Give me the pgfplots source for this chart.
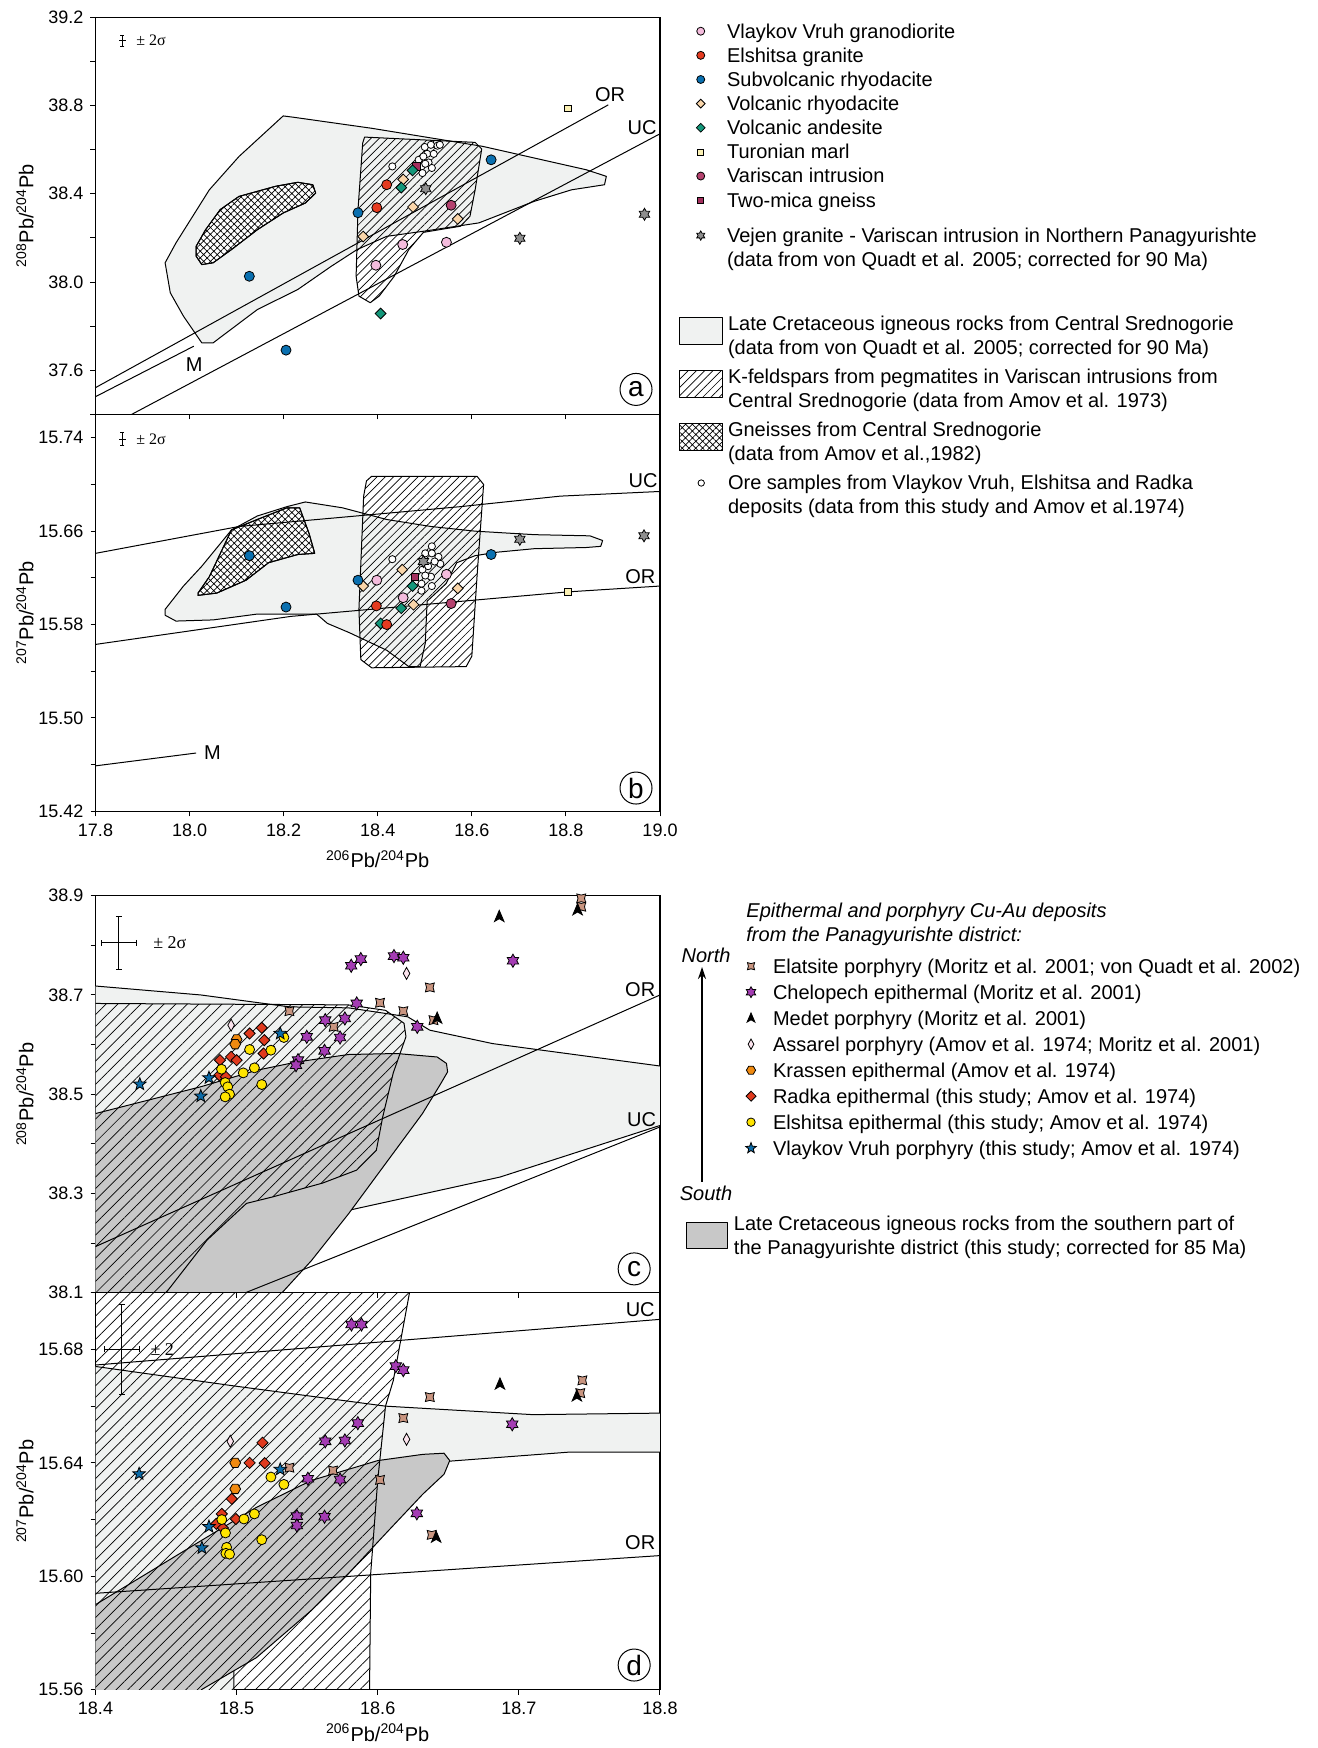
\documentclass[border=0pt]{standalone}
\usepackage{fontspec}
\setmainfont{Liberation Sans}
\newfontfamily\serifont{Liberation Serif}
\usepackage{pgfplots}
\pgfplotsset{compat=1.18}
\usetikzlibrary{patterns.meta,arrows.meta}

\definecolor{cpink}{HTML}{F4BCDD}
\definecolor{cred}{HTML}{E53B20}
\definecolor{cblue}{HTML}{0A70B0}
\definecolor{cpeach}{HTML}{FAD6AA}
\definecolor{cteal}{HTML}{13977A}
\definecolor{cturon}{HTML}{FAF0B4}
\definecolor{cvaris}{HTML}{B5426F}
\definecolor{cmica}{HTML}{A3305E}
\definecolor{cvejen}{HTML}{8E8E8E}
\definecolor{lcgray}{HTML}{F0F2F1}
\definecolor{dgray}{HTML}{C8C8C8}
\definecolor{celat}{HTML}{C99580}
\definecolor{cchel}{HTML}{A43CB3}
\definecolor{cassa}{HTML}{FCE4EE}
\definecolor{ckras}{HTML}{F08A10}
\definecolor{crad}{HTML}{E03A1E}
\definecolor{celsh}{HTML}{FFE400}
\definecolor{cvvp}{HTML}{0C6BA8}

\pgfdeclareplotmark{hexstar}{%
  \pgfmathsetmacro\mrA{\pgfplotmarksize}\pgfmathsetmacro\mrB{0.58*\pgfplotmarksize}%
  \pgfpathmoveto{\pgfqpointpolar{90}{\mrA pt}}%
  \pgfpathlineto{\pgfqpointpolar{120}{\mrB pt}}%
  \pgfpathlineto{\pgfqpointpolar{150}{\mrA pt}}%
  \pgfpathlineto{\pgfqpointpolar{180}{\mrB pt}}%
  \pgfpathlineto{\pgfqpointpolar{210}{\mrA pt}}%
  \pgfpathlineto{\pgfqpointpolar{240}{\mrB pt}}%
  \pgfpathlineto{\pgfqpointpolar{270}{\mrA pt}}%
  \pgfpathlineto{\pgfqpointpolar{300}{\mrB pt}}%
  \pgfpathlineto{\pgfqpointpolar{330}{\mrA pt}}%
  \pgfpathlineto{\pgfqpointpolar{0}{\mrB pt}}%
  \pgfpathlineto{\pgfqpointpolar{30}{\mrA pt}}%
  \pgfpathlineto{\pgfqpointpolar{60}{\mrB pt}}%
  \pgfpathclose\pgfusepathqfillstroke}
\pgfdeclareplotmark{fivestar}{%
  \pgfmathsetmacro\mrA{\pgfplotmarksize}\pgfmathsetmacro\mrB{0.42*\pgfplotmarksize}%
  \pgfpathmoveto{\pgfqpointpolar{90}{\mrA pt}}%
  \pgfpathlineto{\pgfqpointpolar{126}{\mrB pt}}%
  \pgfpathlineto{\pgfqpointpolar{162}{\mrA pt}}%
  \pgfpathlineto{\pgfqpointpolar{198}{\mrB pt}}%
  \pgfpathlineto{\pgfqpointpolar{234}{\mrA pt}}%
  \pgfpathlineto{\pgfqpointpolar{270}{\mrB pt}}%
  \pgfpathlineto{\pgfqpointpolar{306}{\mrA pt}}%
  \pgfpathlineto{\pgfqpointpolar{342}{\mrB pt}}%
  \pgfpathlineto{\pgfqpointpolar{18}{\mrA pt}}%
  \pgfpathlineto{\pgfqpointpolar{54}{\mrB pt}}%
  \pgfpathclose\pgfusepathqfillstroke}
\pgfdeclareplotmark{concsq}{%
  \pgfmathsetmacro\mrA{1.05*\pgfplotmarksize}\pgfmathsetmacro\mrB{0.55*\pgfplotmarksize}%
  \pgfpathmoveto{\pgfqpointpolar{45}{\mrA pt}}%
  \pgfpathlineto{\pgfqpointpolar{90}{\mrB pt}}%
  \pgfpathlineto{\pgfqpointpolar{135}{\mrA pt}}%
  \pgfpathlineto{\pgfqpointpolar{180}{\mrB pt}}%
  \pgfpathlineto{\pgfqpointpolar{225}{\mrA pt}}%
  \pgfpathlineto{\pgfqpointpolar{270}{\mrB pt}}%
  \pgfpathlineto{\pgfqpointpolar{315}{\mrA pt}}%
  \pgfpathlineto{\pgfqpointpolar{0}{\mrB pt}}%
  \pgfpathclose\pgfusepathqfillstroke}
\pgfdeclareplotmark{arrowhd}{%
  \pgfmathsetmacro\mrA{1.15*\pgfplotmarksize}\pgfmathsetmacro\mrB{0.85*\pgfplotmarksize}\pgfmathsetmacro\mrC{0.35*\pgfplotmarksize}%
  \pgfpathmoveto{\pgfqpoint{0pt}{\mrA pt}}%
  \pgfpathlineto{\pgfqpoint{\mrB pt}{-\mrB pt}}%
  \pgfpathlineto{\pgfqpoint{0pt}{-\mrC pt}}%
  \pgfpathlineto{\pgfqpoint{-\mrB pt}{-\mrB pt}}%
  \pgfpathclose\pgfusepathqfillstroke}
\pgfdeclareplotmark{hexa}{%
  \pgfmathsetmacro\mrA{\pgfplotmarksize}%
  \pgfpathmoveto{\pgfqpointpolar{0}{\mrA pt}}%
  \pgfpathlineto{\pgfqpointpolar{60}{\mrA pt}}%
  \pgfpathlineto{\pgfqpointpolar{120}{\mrA pt}}%
  \pgfpathlineto{\pgfqpointpolar{180}{\mrA pt}}%
  \pgfpathlineto{\pgfqpointpolar{240}{\mrA pt}}%
  \pgfpathlineto{\pgfqpointpolar{300}{\mrA pt}}%
  \pgfpathclose\pgfusepathqfillstroke}
\pgfdeclareplotmark{rdiam}{%
  \pgfmathsetmacro\mrA{\pgfplotmarksize}%
  \pgfpathmoveto{\pgfqpoint{0pt}{\mrA pt}}%
  \pgfpathlineto{\pgfqpoint{\mrA pt}{0pt}}%
  \pgfpathlineto{\pgfqpoint{0pt}{-\mrA pt}}%
  \pgfpathlineto{\pgfqpoint{-\mrA pt}{0pt}}%
  \pgfpathclose\pgfusepathqfillstroke}
\pgfdeclareplotmark{tdiam}{%
  \pgfmathsetmacro\mrA{\pgfplotmarksize}\pgfmathsetmacro\mrB{0.55*\pgfplotmarksize}%
  \pgfpathmoveto{\pgfqpoint{0pt}{\mrA pt}}%
  \pgfpathlineto{\pgfqpoint{\mrB pt}{0pt}}%
  \pgfpathlineto{\pgfqpoint{0pt}{-\mrA pt}}%
  \pgfpathlineto{\pgfqpoint{-\mrB pt}{0pt}}%
  \pgfpathclose\pgfusepathqfillstroke}

\pgfplotsset{
  panel/.style={scale only axis, width=282.25pt, height=198.5pt,
    tick align=outside, tick pos=left,
    major tick length=2.5pt, minor tick length=2.5pt,
    every tick/.style={black, line width=0.5pt},
    axis line style={line width=0.7pt},
    tick label style={font=\fontsize{9}{11}\selectfont},
    label style={font=\fontsize{11}{13}\selectfont},
    every axis y label/.style={at={(axis description cs:-0.125,0.5)}, rotate=90, anchor=center},
    every axis x label/.style={at={(axis description cs:0.5,0)}, anchor=center, yshift=-24pt},
    /pgf/number format/assume math mode=true,
    legend style={draw=none, fill=none, inner sep=0pt, outer sep=0pt, anchor=north west,
      font=\fontsize{10}{12}\selectfont, cells={anchor=west, align=left},
      nodes={inner sep=0pt, outer sep=0pt}},
  },
  legA/.style={legend image code/.code={\path[draw=none,fill=none] (-10.85pt,-1pt) rectangle (10.65pt,1pt);\draw[##1] plot coordinates {(0pt,#1)};}},
  legBox/.style={legend image code/.code={\draw[##1] (-10.85pt,-4.15pt) rectangle (10.65pt,9.15pt);}},
  legC/.style={legend image code/.code={\path[draw=none,fill=none] (-3pt,-1pt) rectangle (8.5pt,1pt);\draw[##1] plot coordinates {(0pt,0pt)};}},
  legD/.style={legend image code/.code={\draw[##1] (0pt,-6.5pt) rectangle (20.5pt,6.5pt);}},
  outl/.style={draw=black, line width=0.5pt, line join=round},
  mk/.style={only marks, forget plot, mark options={draw=black, line width=0.4pt, fill=#1}},
}

\begin{document}
\begin{tikzpicture}
\useasboundingbox (0pt,0pt) rectangle (658.5pt,-874pt);

% ================= panel a =================
\begin{axis}[panel, at={(47.75pt,-8.67pt)}, anchor=north west,
  xmin=17.8, xmax=19.0, ymin=37.4, ymax=39.2,
  xtick={17.8,18.0,18.2,18.4,18.6,18.8,19.0}, xticklabels={},
  ytick={37.6,38.0,38.4,38.8,39.2}, yticklabels={37.6,38.0,38.4,38.8,39.2},
  minor ytick={37.4,37.8,38.2,38.6,39.0},
  ylabel={\textsuperscript{208}Pb/\textsuperscript{204}Pb},
  legend style={at={(1.0337,0.990)}, row sep=2.17pt, column sep=2.5pt},
]
\addlegendimage{only marks, mark=*, mark size=2pt, mark options={fill=cpink, draw=black, line width=0.4pt}, legA=0pt}
\addlegendentry{\strut Vlaykov Vruh granodiorite}
\addlegendimage{only marks, mark=*, mark size=2pt, mark options={fill=cred, draw=black, line width=0.4pt}, legA=0pt}
\addlegendentry{\strut Elshitsa granite}
\addlegendimage{only marks, mark=*, mark size=2pt, mark options={fill=cblue, draw=black, line width=0.4pt}, legA=0pt}
\addlegendentry{\strut Subvolcanic rhyodacite}
\addlegendimage{only marks, mark=rdiam, mark size=2.2pt, mark options={fill=cpeach, draw=black, line width=0.4pt}, legA=0pt}
\addlegendentry{\strut Volcanic rhyodacite}
\addlegendimage{only marks, mark=rdiam, mark size=2.2pt, mark options={fill=cteal, draw=black, line width=0.4pt}, legA=0pt}
\addlegendentry{\strut Volcanic andesite}
\addlegendimage{only marks, mark=square*, mark size=1.5pt, mark options={fill=cturon, draw=black, line width=0.4pt}, legA=0pt}
\addlegendentry{\strut Turonian marl}
\addlegendimage{only marks, mark=*, mark size=2pt, mark options={fill=cvaris, draw=black, line width=0.4pt}, legA=0pt}
\addlegendentry{\strut Variscan intrusion}
\addlegendimage{only marks, mark=square*, mark size=1.5pt, mark options={fill=cmica, draw=black, line width=0.4pt}, legA=0pt}
\addlegendentry{\strut Two-mica gneiss}
\addlegendimage{empty legend}
\addlegendentry{\rule{0pt}{1.95pt}}
\addlegendimage{only marks, mark=hexstar, mark size=2.3pt, mark options={fill=cvejen, draw=black, line width=0.4pt}, legA=6pt}
\addlegendentry{\strut Vejen granite - Variscan intrusion in Northern Panagyurishte\\(data from von Quadt et al. 2005; corrected for 90 Ma)\strut}

\addplot[outl, fill=lcgray, forget plot] coordinates {
(18.199,38.753) (18.221,38.747) (18.387,38.697) (18.623,38.615) (18.843,38.509) (18.886,38.479)
(18.882,38.441) (18.812,38.418) (18.733,38.366) (18.615,38.268) (18.497,38.230) (18.419,38.207)
(18.356,38.147) (18.301,38.071) (18.230,37.966) (18.144,37.875) (18.050,37.724) (18.026,37.724)
(17.987,37.845) (17.959,37.951) (17.948,38.087) (17.971,38.177) (18.042,38.418) (18.105,38.569)} --cycle;
\addplot[outl, fill=white, postaction={pattern={Hatch[angle=45,distance=2.4pt,line width=0.35pt]}}, forget plot] coordinates {
(18.014,38.117) (18.026,38.079) (18.050,38.087) (18.089,38.147) (18.144,38.237) (18.199,38.313)
(18.246,38.358) (18.268,38.403) (18.262,38.441) (18.230,38.452) (18.183,38.434) (18.105,38.388)
(18.065,38.328) (18.034,38.237) (18.014,38.162)} --cycle;
\addplot[outl, pattern={Lines[angle=45,distance=2.9pt,line width=0.35pt]}, forget plot] coordinates {
(18.372,38.657) (18.607,38.633) (18.621,38.603) (18.607,38.418) (18.596,38.298) (18.576,38.253)
(18.497,38.225) (18.466,38.147) (18.435,38.026) (18.403,37.936) (18.384,37.906) (18.360,37.936)
(18.354,38.026) (18.358,38.328) (18.368,38.630)} --cycle;
\addplot[outl, forget plot] coordinates {(17.8,37.521) (18.890,38.803)};
\addplot[outl, forget plot] coordinates {(17.8,37.480) (18.009,37.709)};
\addplot[outl, forget plot] coordinates {(17.75,37.256) (19.0,38.672)};
\addplot[mk=white, mark=*, mark size=1.8pt] coordinates {
(18.431,38.524) (18.487,38.554) (18.500,38.612) (18.513,38.622) (18.527,38.618) (18.532,38.622)
(18.505,38.581) (18.519,38.581) (18.497,38.569) (18.508,38.542) (18.493,38.524) (18.515,38.517)
(18.495,38.494) (18.501,38.536)};
\addplot[mk=cblue, mark=*, mark size=2.5pt] coordinates {(18.127,38.026) (18.205,37.691) (18.358,38.314) (18.641,38.554)};
\addplot[mk=cpink, mark=*, mark size=2.5pt] coordinates {(18.396,38.076) (18.453,38.170) (18.546,38.180)};
\addplot[mk=cred, mark=*, mark size=2.5pt] coordinates {(18.419,38.441) (18.398,38.337)};
\addplot[mk=cmica, mark=square*, mark size=1.8pt] coordinates {(18.482,38.524)};
\addplot[mk=cpeach, mark=rdiam, mark size=2.7pt] coordinates {(18.454,38.465) (18.475,38.340) (18.369,38.206) (18.570,38.286)};
\addplot[mk=cteal, mark=rdiam, mark size=2.7pt] coordinates {(18.474,38.506) (18.450,38.428) (18.406,37.857)};
\addplot[mk=cturon, mark=square*, mark size=1.7pt] coordinates {(18.804,38.787)};
\addplot[mk=cvaris, mark=*, mark size=2.5pt] coordinates {(18.556,38.348)};
\addplot[mk=cvejen, mark=hexstar, mark size=3pt] coordinates {(18.502,38.423) (18.702,38.198) (18.967,38.307)};
\node[font=\fontsize{10}{10}\selectfont] at (axis cs:18.894,38.848) {OR};
\node[font=\fontsize{10}{10}\selectfont] at (axis cs:18.962,38.702) {UC};
\node[font=\fontsize{10}{10}\selectfont] at (axis cs:18.010,37.626) {M};
\node[draw, circle, minimum size=16pt, inner sep=0pt, line width=0.5pt, font=\fontsize{14}{14}\selectfont] at (axis cs:18.949,37.513) {a};
\draw[line width=0.4pt, {Bar[width=2pt]}-{Bar[width=2pt]}] (axis cs:17.857,39.068) -- (axis cs:17.857,39.120);
\draw[line width=0.4pt] (axis cs:17.850,39.094) -- (axis cs:17.864,39.094);
\node[anchor=west, font=\serifont\fontsize{8}{8}\selectfont] at (axis cs:17.872,39.094) {± 2σ};
\end{axis}

% ================= panel b =================
\begin{axis}[panel, at={(47.75pt,-207.2pt)}, anchor=north west,
  xmin=17.8, xmax=19.0, ymin=15.42, ymax=15.76,
  xtick={17.8,18.0,18.2,18.4,18.6,18.8,19.0}, xticklabels={17.8,18.0,18.2,18.4,18.6,18.8,19.0},
  ytick={15.42,15.50,15.58,15.66,15.74}, yticklabels={15.42,15.50,15.58,15.66,15.74},
  minor ytick={15.46,15.54,15.62,15.70},
  ylabel={\textsuperscript{207}Pb/\textsuperscript{204}Pb},
  xlabel={\textsuperscript{206}Pb/\textsuperscript{204}Pb},
  legend style={at={(1.0337,1.2526)}, row sep=4.6pt, column sep=2.5pt},
]
\addlegendimage{outl, fill=lcgray, legBox}
\addlegendentry{\strut Late Cretaceous igneous rocks from Central Srednogorie\\(data from von Quadt et al. 2005; corrected for 90 Ma)\strut}
\addlegendimage{outl, pattern={Lines[angle=45,distance=2.9pt,line width=0.35pt]}, legBox}
\addlegendentry{\strut K-feldspars from pegmatites in Variscan intrusions from\\Central Srednogorie (data from Amov et al. 1973)\strut}
\addlegendimage{outl, fill=white, postaction={pattern={Hatch[angle=45,distance=2.4pt,line width=0.35pt]}}, legBox}
\addlegendentry{\strut Gneisses from Central Srednogorie\\(data from Amov et al.,1982)\strut}
\addlegendimage{only marks, mark=*, mark size=1.6pt, mark options={fill=white, draw=black, line width=0.4pt}, legA=6pt}
\addlegendentry{\strut Ore samples from Vlaykov Vruh, Elshitsa and Radka\\deposits (data from this study and Amov et al.1974)\strut}

\addplot[outl, fill=lcgray, forget plot] coordinates {
(17.948,15.593) (17.987,15.613) (18.026,15.630) (18.089,15.661) (18.144,15.673) (18.207,15.681)
(18.246,15.685) (18.325,15.680) (18.419,15.670) (18.513,15.664) (18.607,15.660) (18.733,15.657)
(18.851,15.656) (18.878,15.652) (18.874,15.647) (18.843,15.646) (18.733,15.645) (18.654,15.642)
(18.607,15.639) (18.568,15.633) (18.545,15.615) (18.505,15.600) (18.501,15.564) (18.490,15.544)
(18.466,15.544) (18.419,15.558) (18.340,15.573) (18.293,15.581) (18.270,15.589) (18.144,15.589)
(18.050,15.584) (17.971,15.583) (17.948,15.588)} --cycle;
\addplot[outl, fill=white, postaction={pattern={Hatch[angle=45,distance=2.4pt,line width=0.35pt]}}, forget plot] coordinates {
(18.018,15.607) (18.042,15.621) (18.089,15.661) (18.144,15.670) (18.207,15.680) (18.234,15.680)
(18.254,15.658) (18.266,15.641) (18.230,15.640) (18.168,15.633) (18.120,15.618) (18.058,15.607)
(18.018,15.605)} --cycle;
\addplot[outl, pattern={Lines[angle=45,distance=2.9pt,line width=0.35pt]}, forget plot] coordinates {
(18.387,15.707) (18.611,15.707) (18.625,15.700) (18.611,15.621) (18.600,15.553) (18.588,15.544)
(18.387,15.543) (18.364,15.550) (18.360,15.593) (18.370,15.690) (18.376,15.703)} --cycle;
\addplot[outl, forget plot] coordinates {(17.8,15.641) (18.105,15.664) (18.576,15.681) (18.788,15.690) (19.0,15.694)};
\addplot[outl, forget plot] coordinates {(17.8,15.563) (18.215,15.587) (18.804,15.608) (19.0,15.613)};
\addplot[outl, forget plot] coordinates {(17.8,15.459) (18.014,15.470)};
\addplot[mk=white, mark=*, mark size=1.8pt] coordinates {
(18.431,15.636) (18.515,15.647) (18.501,15.641) (18.515,15.641) (18.529,15.638) (18.533,15.632)
(18.521,15.634) (18.507,15.630) (18.495,15.627) (18.513,15.621) (18.501,15.622) (18.493,15.615)
(18.515,15.613) (18.493,15.609)};
\addplot[mk=cvejen, mark=hexstar, mark size=3pt] coordinates {(18.497,15.634) (18.702,15.653) (18.966,15.656)};
\addplot[mk=cpeach, mark=rdiam, mark size=2.7pt] coordinates {(18.452,15.627) (18.476,15.597) (18.369,15.613) (18.570,15.611)};
\addplot[mk=cblue, mark=*, mark size=2.5pt] coordinates {(18.127,15.639) (18.205,15.595) (18.358,15.618) (18.641,15.640)};
\addplot[mk=cpink, mark=*, mark size=2.5pt] coordinates {(18.398,15.618) (18.454,15.603) (18.546,15.623)};
\addplot[mk=cmica, mark=square*, mark size=1.8pt] coordinates {(18.479,15.621)};
\addplot[mk=cteal, mark=rdiam, mark size=2.7pt] coordinates {(18.474,15.613) (18.450,15.594) (18.406,15.581)};
\addplot[mk=cred, mark=*, mark size=2.5pt] coordinates {(18.397,15.596) (18.419,15.580)};
\addplot[mk=cturon, mark=square*, mark size=1.7pt] coordinates {(18.804,15.608)};
\addplot[mk=cvaris, mark=*, mark size=2.5pt] coordinates {(18.556,15.598)};
\node[font=\fontsize{10}{10}\selectfont] at (axis cs:18.964,15.703) {UC};
\node[font=\fontsize{10}{10}\selectfont] at (axis cs:18.958,15.621) {OR};
\node[anchor=west, font=\fontsize{10}{10}\selectfont] at (axis cs:18.016,15.470) {M};
\node[draw, circle, minimum size=16pt, inner sep=0pt, line width=0.5pt, font=\fontsize{14}{14}\selectfont] at (axis cs:18.949,15.440) {b};
\draw[line width=0.4pt, {Bar[width=2pt]}-{Bar[width=2pt]}] (axis cs:17.857,15.7335) -- (axis cs:17.857,15.7445);
\draw[line width=0.4pt] (axis cs:17.850,15.739) -- (axis cs:17.864,15.739);
\node[anchor=west, font=\serifont\fontsize{8}{8}\selectfont] at (axis cs:17.872,15.739) {± 2σ};
\end{axis}

% ================= panel c =================
\begin{axis}[panel, at={(47.75pt,-447.85pt)}, anchor=north west,
  xmin=18.4, xmax=18.8, ymin=38.1, ymax=38.9,
  xtick={18.4,18.5,18.6,18.7,18.8}, xticklabels={},
  ytick={38.1,38.3,38.5,38.7,38.9}, yticklabels={38.1,38.3,38.5,38.7,38.9},
  minor ytick={38.2,38.4,38.6,38.8},
  ylabel={\textsuperscript{208}Pb/\textsuperscript{204}Pb},
  legend style={at={(1.1506,0.8474)}, row sep=3.1pt, column sep=2.5pt},
]
\addlegendimage{only marks, mark=concsq, mark size=2.4pt, mark options={fill=celat, draw=black, line width=0.4pt}, legC}
\addlegendentry{\strut Elatsite porphyry (Moritz et al. 2001; von Quadt et al. 2002)}
\addlegendimage{only marks, mark=hexstar, mark size=2.7pt, mark options={fill=cchel, draw=black, line width=0.4pt}, legC}
\addlegendentry{\strut Chelopech epithermal (Moritz et al. 2001)}
\addlegendimage{only marks, mark=arrowhd, mark size=2.3pt, mark options={fill=black, draw=black, line width=0.4pt}, legC}
\addlegendentry{\strut Medet porphyry (Moritz et al. 2001)}
\addlegendimage{only marks, mark=tdiam, mark size=2.6pt, mark options={fill=cassa, draw=black, line width=0.4pt}, legC}
\addlegendentry{\strut Assarel porphyry (Amov et al. 1974; Moritz et al. 2001)}
\addlegendimage{only marks, mark=hexa, mark size=2.3pt, mark options={fill=ckras, draw=black, line width=0.4pt}, legC}
\addlegendentry{\strut Krassen epithermal (Amov et al. 1974)}
\addlegendimage{only marks, mark=rdiam, mark size=2.5pt, mark options={fill=crad, draw=black, line width=0.4pt}, legC}
\addlegendentry{\strut Radka epithermal (this study; Amov et al. 1974)}
\addlegendimage{only marks, mark=*, mark size=2.1pt, mark options={fill=celsh, draw=black, line width=0.4pt}, legC}
\addlegendentry{\strut Elshitsa epithermal (this study; Amov et al. 1974)}
\addlegendimage{only marks, mark=fivestar, mark size=2.8pt, mark options={fill=cvvp, draw=black, line width=0.4pt}, legC}
\addlegendentry{\strut Vlaykov Vruh porphyry (this study; Amov et al. 1974)}

\addplot[outl, fill=lcgray, forget plot] coordinates {
(18.39,38.720) (18.4,38.718) (18.4746,38.700) (18.5374,38.676) (18.5793,38.674) (18.6212,38.656)
(18.6369,38.629) (18.6814,38.602) (18.81,38.553) (18.81,38.437) (18.8,38.437) (18.6866,38.333)
(18.5793,38.266) (18.54,38.20) (18.50,38.09) (18.39,38.09)} --cycle;
\addplot[outl, fill=dgray, forget plot] coordinates {
(18.39,38.461) (18.4,38.461) (18.4746,38.515) (18.5139,38.548) (18.5427,38.565) (18.5793,38.580)
(18.6134,38.582) (18.6421,38.575) (18.6487,38.562) (18.6495,38.545) (18.6448,38.522) (18.6317,38.461)
(18.6055,38.360) (18.5793,38.259) (18.5531,38.165) (18.5322,38.1) (18.53,38.05) (18.39,38.05)} --cycle;
\addplot[outl, pattern={Lines[angle=45,distance=4.1pt,line width=0.35pt]}, forget plot] coordinates {
(18.39,38.683) (18.579,38.680) (18.6055,38.669) (18.6186,38.643) (18.62,38.616) (18.611,38.543)
(18.6035,38.454) (18.599,38.387) (18.585,38.347) (18.561,38.321) (18.5255,38.293) (18.507,38.280)
(18.479,38.206) (18.450,38.1) (18.44,38.05) (18.39,38.05)} --cycle;
\addplot[outl, forget plot] coordinates {(18.4,38.193) (18.8,38.70)};
\addplot[outl, forget plot] coordinates {(18.45,38.036) (18.8,38.434)};
\addplot[mk=celat, mark=concsq, mark size=3pt] coordinates {
(18.7442,38.8946) (18.7442,38.8778) (18.6369,38.7151) (18.6016,38.6842) (18.6181,38.6674)
(18.6395,38.6492) (18.5374,38.6674) (18.5688,38.6358)};
\addplot[mk=black, mark=arrowhd, mark size=2.8pt] coordinates {(18.6861,38.8576) (18.7416,38.8711) (18.6421,38.6526)};
\addplot[mk=cchel, mark=hexstar, mark size=3.3pt] coordinates {
(18.5812,38.7588) (18.5880,38.7723) (18.6115,38.7783) (18.6181,38.7750) (18.6958,38.7689)
(18.5851,38.6829) (18.5628,38.6492) (18.5767,38.6526) (18.6280,38.6358) (18.5497,38.6156)
(18.5733,38.6143) (18.5623,38.5874) (18.5435,38.5686) (18.5421,38.5585)};
\addplot[mk=cassa, mark=tdiam, mark size=3pt] coordinates {(18.6204,38.7434) (18.4961,38.6392)};
\addplot[mk=ckras, mark=hexa, mark size=2.7pt] coordinates {(18.5000,38.6103) (18.4990,38.6008)};
\addplot[mk=crad, mark=rdiam, mark size=2.8pt] coordinates {
(18.5178,38.6338) (18.5092,38.6224) (18.5196,38.6089) (18.5191,38.5820) (18.4961,38.5753)
(18.5000,38.5686) (18.4882,38.5686) (18.4877,38.5383) (18.4924,38.5350)};
\addplot[mk=celsh, mark=*, mark size=2.5pt] coordinates {
(18.5335,38.6143) (18.5092,38.5901) (18.5243,38.5887) (18.5126,38.5531) (18.5047,38.5430)
(18.4893,38.5504) (18.4919,38.5235) (18.4937,38.5148) (18.4950,38.5000) (18.4919,38.4946)
(18.5178,38.5195)};
\addplot[mk=cvvp, mark=fivestar, mark size=3.3pt] coordinates {(18.4314,38.5202) (18.4804,38.5329) (18.4746,38.4960) (18.5309,38.6224)};
\node[font=\fontsize{10}{10}\selectfont] at (axis cs:18.786,38.71) {OR};
\node[font=\fontsize{10}{10}\selectfont] at (axis cs:18.787,38.448) {UC};
\node[draw, circle, minimum size=16pt, inner sep=0pt, line width=0.5pt, font=\fontsize{14}{14}\selectfont] at (axis cs:18.7817,38.148) {c};
\draw[line width=0.5pt, {Bar[width=3pt]}-{Bar[width=3pt]}] (axis cs:18.4165,38.7505) -- (axis cs:18.4165,38.8595);
\draw[line width=0.5pt, {Bar[width=3pt]}-{Bar[width=3pt]}] (axis cs:18.4037,38.805) -- (axis cs:18.4293,38.805);
\node[anchor=west, font=\serifont\fontsize{9}{9}\selectfont] at (axis cs:18.436,38.805) {± 2σ};
\end{axis}

% ================= panel d =================
\begin{axis}[panel, at={(47.75pt,-646.35pt)}, anchor=north west,
  xmin=18.4, xmax=18.8, ymin=15.56, ymax=15.70,
  xtick={18.4,18.5,18.6,18.7,18.8}, xticklabels={18.4,18.5,18.6,18.7,18.8},
  ytick={15.56,15.60,15.64,15.68}, yticklabels={15.56,15.60,15.64,15.68},
  minor ytick={15.58,15.62,15.66,15.70},
  ylabel={\textsuperscript{207}Pb/\textsuperscript{204}Pb},
  xlabel={\textsuperscript{206}Pb/\textsuperscript{204}Pb},
  xlabel style={yshift=2.5pt},
  legend style={at={(1.046,1.1997)}, row sep=3pt, column sep=3pt},
]
\addlegendimage{outl, fill=dgray, legD}
\addlegendentry{\strut Late Cretaceous igneous rocks from the southern part of\\the Panagyurishte district (this study; corrected for 85 Ma)\strut}

\addplot[outl, fill=lcgray, forget plot] coordinates {
(18.39,15.674) (18.4,15.674) (18.5,15.667) (18.6055,15.660) (18.71,15.657) (18.81,15.6576)
(18.81,15.6438) (18.736,15.6438) (18.651,15.6406) (18.60,15.636) (18.56,15.628) (18.52,15.61)
(18.50,15.595) (18.498,15.57) (18.498,15.55) (18.39,15.55)} --cycle;
\addplot[outl, fill=dgray, forget plot] coordinates {
(18.39,15.590) (18.4,15.590) (18.4746,15.6125) (18.514,15.6243) (18.553,15.6338) (18.600,15.6408)
(18.632,15.643) (18.647,15.6434) (18.651,15.6408) (18.647,15.636) (18.632,15.629) (18.6055,15.615)
(18.579,15.6008) (18.553,15.588) (18.514,15.5713) (18.475,15.56) (18.47,15.55) (18.39,15.55)} --cycle;
\addplot[outl, pattern={Lines[angle=45,distance=4.1pt,line width=0.35pt]}, forget plot] coordinates {
(18.39,15.71) (18.6225,15.71) (18.6225,15.70) (18.611,15.669) (18.6055,15.660) (18.600,15.634)
(18.595,15.601) (18.594,15.55) (18.39,15.55)} --cycle;
\addplot[outl, forget plot] coordinates {(18.4,15.6745) (18.8,15.6906)};
\addplot[outl, forget plot] coordinates {(18.4,15.594) (18.8,15.6073)};
\addplot[mk=celat, mark=concsq, mark size=3pt] coordinates {
(18.7450,15.6691) (18.7435,15.6646) (18.6369,15.6632) (18.6181,15.6558) (18.5374,15.6383)
(18.5683,15.6373) (18.6016,15.6340) (18.6382,15.6146)};
\addplot[mk=black, mark=arrowhd, mark size=2.8pt] coordinates {(18.6866,15.6677) (18.7411,15.6635) (18.6414,15.6137)};
\addplot[mk=cchel, mark=hexstar, mark size=3.3pt] coordinates {
(18.5814,15.6888) (18.5885,15.6888) (18.6128,15.6741) (18.6181,15.6727) (18.5859,15.6540)
(18.5628,15.6476) (18.5767,15.6479) (18.6953,15.6536) (18.5505,15.6344) (18.5733,15.6341)
(18.5427,15.6212) (18.5427,15.6179) (18.5623,15.6210) (18.6277,15.6222)};
\addplot[mk=cassa, mark=tdiam, mark size=3pt] coordinates {(18.4955,15.6476) (18.6204,15.6483)};
\addplot[mk=ckras, mark=hexa, mark size=2.7pt] coordinates {(18.4990,15.6400) (18.4990,15.6308)};
\addplot[mk=crad, mark=rdiam, mark size=2.8pt] coordinates {
(18.5183,15.6471) (18.5092,15.6400) (18.5199,15.6399) (18.4966,15.6273) (18.4895,15.6220)
(18.4995,15.6202) (18.4856,15.6185) (18.4903,15.6170)};
\addplot[mk=celsh, mark=*, mark size=2.5pt] coordinates {
(18.5243,15.6350) (18.5335,15.6324) (18.5126,15.6220) (18.5052,15.6202) (18.4895,15.6200)
(18.4921,15.6153) (18.5178,15.6129) (18.4929,15.6102) (18.4924,15.6081) (18.4950,15.6078)};
\addplot[mk=cvvp, mark=fivestar, mark size=3.3pt] coordinates {(18.4309,15.6361) (18.4804,15.6175) (18.4754,15.6100) (18.5309,15.6377)};
\node[font=\fontsize{10}{10}\selectfont] at (axis cs:18.786,15.694) {UC};
\node[font=\fontsize{10}{10}\selectfont] at (axis cs:18.786,15.612) {OR};
\node[draw, circle, minimum size=16pt, inner sep=0pt, line width=0.5pt, font=\fontsize{14}{14}\selectfont] at (axis cs:18.7817,15.5687) {d};
\draw[line width=0.5pt, {Bar[width=3pt]}-{Bar[width=3pt]}] (axis cs:18.4187,15.6641) -- (axis cs:18.4187,15.6959);
\draw[line width=0.5pt, {Bar[width=3pt]}-{Bar[width=3pt]}] (axis cs:18.4059,15.680) -- (axis cs:18.4315,15.680);
\node[anchor=west, font=\serifont\fontsize{9}{9}\selectfont] at (axis cs:18.434,15.680) {± 2};
\end{axis}

\node[anchor=west, align=left, inner sep=0pt, font=\itshape\fontsize{10}{12}\selectfont] at (373pt,-462.1pt) {\strut Epithermal and porphyry Cu-Au deposits\\from the Panagyurishte district:\strut};
\node[inner sep=0pt, font=\itshape\fontsize{10}{12}\selectfont] at (353pt,-477.5pt) {North};
\node[inner sep=0pt, font=\itshape\fontsize{10}{12}\selectfont] at (353pt,-596.5pt) {South};
\draw[line width=0.6pt, -{Stealth[length=6pt,width=4pt]}] (351pt,-590.9pt) -- (351pt,-483.5pt);
\end{tikzpicture}
\end{document}
